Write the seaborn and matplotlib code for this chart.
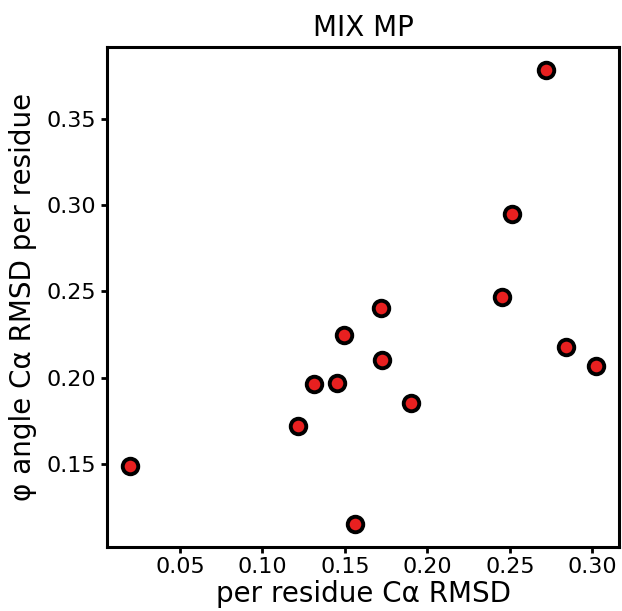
import matplotlib
matplotlib.use("Agg")
import matplotlib.pyplot as plt
import seaborn as sns
import pandas as pd

ca_rmsd = [0.2721, 0.2514, 0.2454, 0.1717, 0.1496, 0.1725, 0.1311, 0.1452,
           0.1902, 0.1215, 0.0199, 0.1560, 0.2837, 0.3020]
phi_rmsd = [0.3787, 0.2949, 0.2469, 0.2406, 0.2247, 0.2100, 0.1962, 0.1966,
            0.1854, 0.1721, 0.1490, 0.1149, 0.2180, 0.2068]

title = "MIX MP"
xlabel = "per residue Cα RMSD"
ylabel = "φ angle Cα RMSD per residue"

df = pd.DataFrame({"x": ca_rmsd, "y": phi_rmsd})

sns.set_style("ticks")
plt.rcParams['font.family'] = ['DejaVu Sans']
plt.rcParams['text.color'] = 'black'
plt.rcParams['axes.labelcolor'] = 'black'
plt.rcParams['xtick.color'] = 'black'
plt.rcParams['ytick.color'] = 'black'

fig = plt.figure(figsize=(6.22, 6.11), dpi=100)
ax = fig.add_axes([107/622, 1 - 547/611, (619-107)/622, (547-47)/611])

sns.scatterplot(data=df, x="x", y="y", ax=ax, color="#e82020",
                edgecolor="black", linewidth=2.8, s=125, zorder=3)

ax.set_title(title, fontsize=20, pad=8, color="black")
ax.set_xlabel(xlabel, fontsize=20, labelpad=2)
ax.set_ylabel(ylabel, fontsize=20, labelpad=7)
ax.set_xticks([0.05, 0.10, 0.15, 0.20, 0.25, 0.30])
ax.set_yticks([0.15, 0.20, 0.25, 0.30, 0.35])
ax.tick_params(labelsize=16, width=2, length=4, color="black", labelcolor="black")
for sp in ax.spines.values():
    sp.set_visible(True)
    sp.set_linewidth(2.2)
    sp.set_color("black")

fig.savefig("out.png", dpi=100)
